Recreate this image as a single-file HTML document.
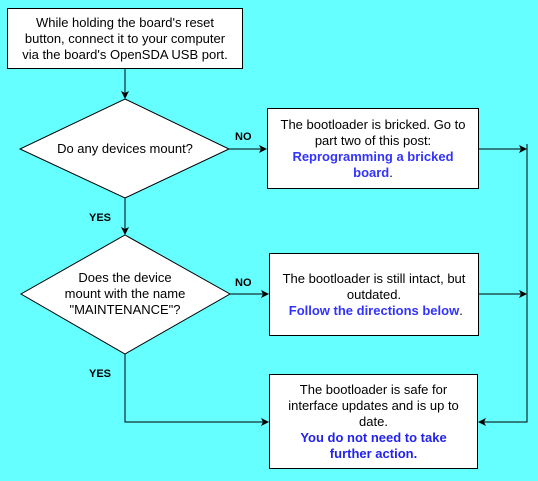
<!DOCTYPE html>
<html><head><style>
body{margin:0;width:538px;height:481px;background:#66ffff;position:relative;overflow:hidden;font-family:"Liberation Sans",Arial,sans-serif;}
.b{position:absolute;background:#fff;border:1px solid #000;box-sizing:border-box;display:flex;align-items:center;justify-content:center;text-align:center;font-size:13px;line-height:16px;color:#000;}
.l{color:#3333ff;font-weight:bold;}
.t{position:absolute;font-size:11px;font-weight:bold;line-height:12px;}
svg{position:absolute;left:0;top:0;}
</style></head><body>
<svg width="538" height="481">
<defs><marker id="a" markerWidth="8" markerHeight="8" refX="7" refY="4" orient="auto" markerUnits="userSpaceOnUse"><path d="M0,0 L8,4 L0,8 L2,4z" fill="#000"/></marker></defs>
<g stroke="#000" fill="none" stroke-width="1">
<line x1="125" y1="68" x2="125" y2="98" marker-end="url(#a)"/>
<polygon points="125,99 229,149 125,198 20,149" fill="#fff"/>
<line x1="229" y1="149" x2="266" y2="149" marker-end="url(#a)"/>
<line x1="125" y1="198" x2="125" y2="234" marker-end="url(#a)"/>
<polygon points="125,235 230,294 125,354 21,294" fill="#fff"/>
<line x1="230" y1="294" x2="268" y2="294" marker-end="url(#a)"/>
<polyline points="125,354 125,422 268,422" marker-end="url(#a)"/>
<line x1="479" y1="149" x2="526" y2="149" marker-end="url(#a)"/>
<line x1="479" y1="294" x2="526" y2="294" marker-end="url(#a)"/>
<polyline points="527,144 527,422 479,422" marker-end="url(#a)"/>
</g>
</svg>
<div class="b" style="left:7px;top:8px;width:236px;height:61px;">While holding the board's reset<br>button, connect it to your computer<br>via the board's OpenSDA USB port.</div>
<div class="b" style="left:20px;top:136px;width:210px;height:26px;background:none;border:none;">Do any devices mount?</div>
<div class="b" style="left:21px;top:269px;width:208px;height:50px;background:none;border:none;">Does the device<br>mount with the name<br>"MAINTENANCE"?</div>
<div class="b" style="left:267px;top:108px;width:212px;height:81px;"><div>The bootloader is bricked. Go to<br>part two of this post:<br><span class="l">Reprogramming a bricked<br>board</span>.</div></div>
<div class="b" style="left:269px;top:253px;width:210px;height:83px;"><div>The bootloader is still intact, but<br>outdated.<br>&nbsp;<span class="l">Follow the directions below</span>.</div></div>
<div class="b" style="left:269px;top:374px;width:209px;height:95px;"><div>The bootloader is safe for<br>interface updates and is up to<br>date.<br><span class="l" style="color:#2222ee">You do not need to take<br>further action.</span></div></div>
<div class="t" style="left:235px;top:131px;">NO</div>
<div class="t" style="left:235px;top:277px;">NO</div>
<div class="t" style="left:89px;top:212px;">YES</div>
<div class="t" style="left:89px;top:368px;">YES</div>
</body></html>
